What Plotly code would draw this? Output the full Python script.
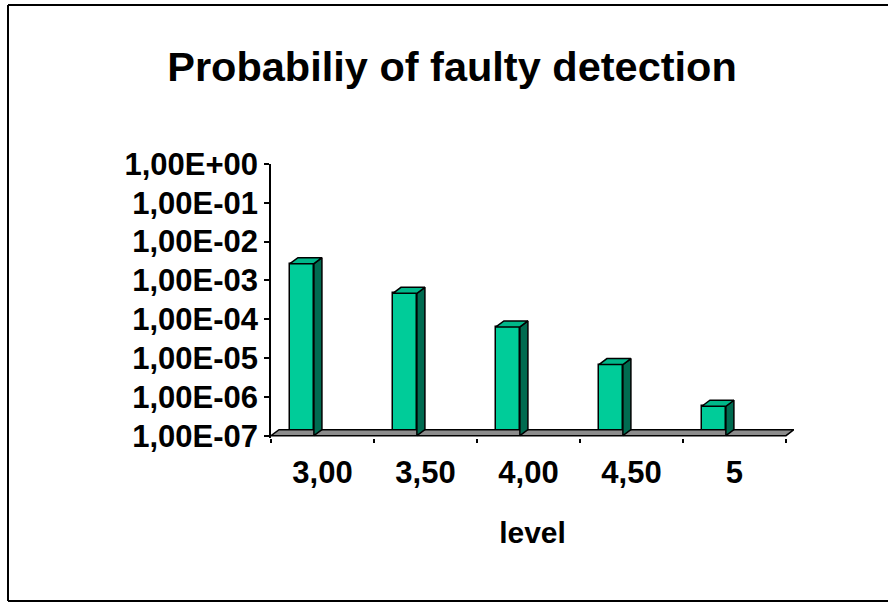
import plotly.graph_objects as go

# ---- data ----
levels = ["3,00", "3,50", "4,00", "4,50", "5"]
probability = [2.70e-3, 4.65e-4, 6.33e-5, 6.80e-6, 5.73e-7]
y_tick_values = [1e0, 1e-1, 1e-2, 1e-3, 1e-4, 1e-5, 1e-6, 1e-7]
y_tick_labels = ["1,00E+00", "1,00E-01", "1,00E-02", "1,00E-03",
                 "1,00E-04", "1,00E-05", "1,00E-06", "1,00E-07"]

# ---- style ----
FRONT = "#00CC99"
SIDE = "#006B50"
TOP = "#00B88A"
FLOOR = "#8C8C8C"
FONT = "Liberation Sans"
base = 1e-7
bar_off = -0.2      # offset of front face centre from category centre
bar_w = 0.233
dx = 0.078          # depth (x units)
k = 10 ** 0.155     # depth (log factor upward)

W, H = 888, 603
L, T = 271, 164
R = W - 794
B = H - 438
xr = [-0.5, 4.578]
yr = [-7.06, 0]

fig = go.Figure()

# floor
fx = [xr[0], 4.5, 4.5 + dx, xr[0] + dx, xr[0]]
fy = [base, base, base * k, base * k, base]
fig.add_trace(go.Scatter(x=fx, y=fy, mode="lines", fill="toself",
                         fillcolor=FLOOR, line=dict(color="black", width=1.5),
                         hoverinfo="skip", showlegend=False))

xs = list(range(len(levels)))
for i, v in zip(xs, probability):
    xl = i + bar_off - bar_w / 2
    xrr = i + bar_off + bar_w / 2
    # side face
    fig.add_trace(go.Scatter(
        x=[xrr, xrr + dx, xrr + dx, xrr, xrr],
        y=[base, base * k, v * k, v, base],
        mode="lines", fill="toself", fillcolor=SIDE,
        line=dict(color="black", width=1.5), hoverinfo="skip", showlegend=False))
    # top face
    fig.add_trace(go.Scatter(
        x=[xl, xrr, xrr + dx, xl + dx, xl],
        y=[v, v, v * k, v * k, v],
        mode="lines", fill="toself", fillcolor=TOP,
        line=dict(color="black", width=1.5), hoverinfo="skip", showlegend=False))

# front faces
fig.add_trace(go.Bar(x=[i + bar_off for i in xs],
                     y=[v - base for v in probability], base=base,
                     width=bar_w, marker=dict(color=FRONT,
                                              line=dict(color="black", width=1.5)),
                     showlegend=False))

fig.update_layout(
    width=W, height=H,
    margin=dict(l=L, r=R, t=T, b=B),
    paper_bgcolor="white", plot_bgcolor="white",
    font=dict(family=FONT, color="black"),
    title=dict(text="Probabiliy of faulty detection", x=452 / W,
               xanchor="center", y=1 - 66 / H, yanchor="middle",
               font=dict(size=41.5, family=FONT, weight="bold", color="black")),
    bargap=0,
)
fig.update_xaxes(
    range=xr, tickmode="array", tickvals=xs, ticktext=levels,
    ticks="", showgrid=False, zeroline=False, showline=False,
    tickfont=dict(size=31, family=FONT, weight="bold"),
    ticklabelstandoff=13,
    minor=dict(tickmode="array", tickvals=[-0.5, 0.5, 1.5, 2.5, 3.5, 4.5],
               ticks="outside", ticklen=4, tickwidth=1.5, tickcolor="black",
               showgrid=False),
    title=dict(text="level", standoff=32,
               font=dict(size=30, family=FONT, weight="bold")),
)
fig.update_yaxes(
    type="log", range=yr, tickmode="array", tickvals=y_tick_values,
    ticktext=y_tick_labels, ticks="outside", ticklen=5, tickwidth=1.5,
    tickcolor="black", showline=True, linecolor="black", linewidth=1.5,
    showgrid=False, zeroline=False,
    tickfont=dict(size=31, family=FONT, weight="bold"),
)

# outer frame (left, top, bottom edges; right edge lies outside the picture)
pw = W - L - R
ph = H - T - B
fx0 = (8 - L) / pw
fx1 = (W + 20 - L) / pw
fy0 = (H - B - 601) / ph
fy1 = (H - B - 5) / ph
frame = dict(color="black", width=2)
fig.add_shape(type="line", xref="paper", yref="paper",
              x0=fx0, x1=fx0, y0=fy0, y1=fy1, line=frame, layer="below")
fig.add_shape(type="line", xref="paper", yref="paper",
              x0=fx0, x1=fx1, y0=fy1, y1=fy1, line=frame, layer="below")
fig.add_shape(type="line", xref="paper", yref="paper",
              x0=fx0, x1=fx1, y0=fy0, y1=fy0, line=frame, layer="below")

fig.write_html(
    "out.html",
    config={"displayModeBar": False},
    post_script="document.body.style.margin='0';"
                "document.body.style.overflow='hidden';",
)
